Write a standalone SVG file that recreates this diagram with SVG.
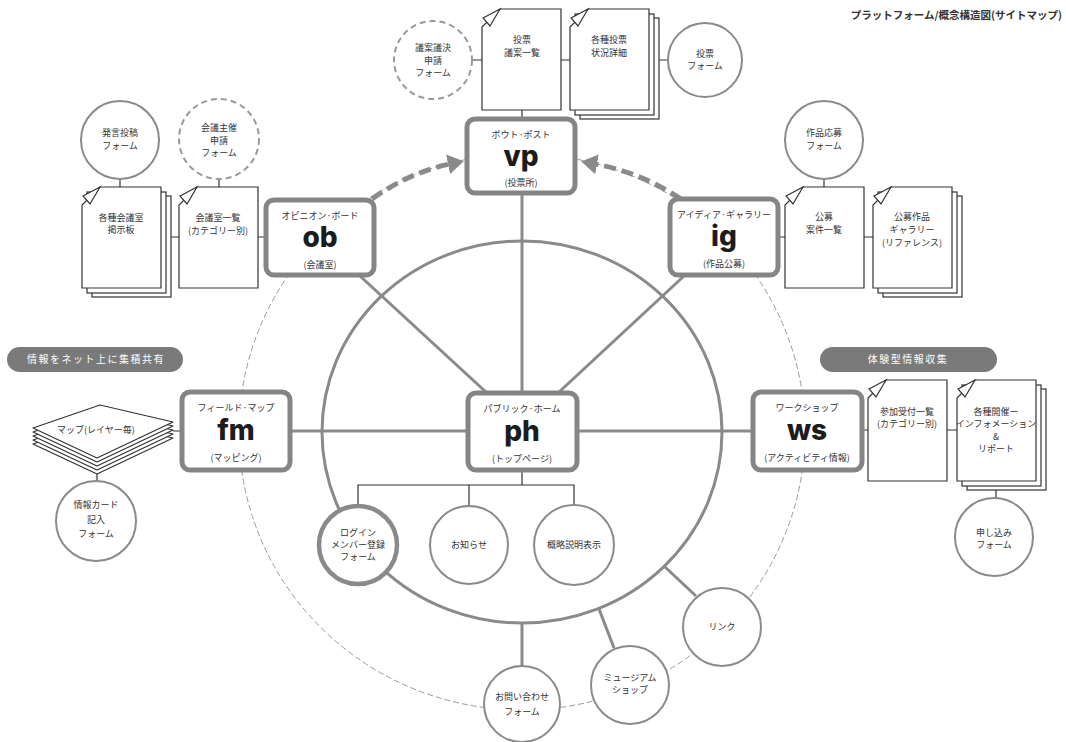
<svg xmlns="http://www.w3.org/2000/svg" xmlns:xlink="http://www.w3.org/1999/xlink" width="1066" height="742" viewBox="0 0 1066 742">
<style>
.t{font-family:"Noto Sans CJK JP",sans-serif;font-size:9px;fill:#333;text-anchor:middle}
.tt{font-family:"Noto Sans CJK JP",sans-serif;font-size:10.5px;fill:#333;text-anchor:end;font-weight:bold}
.pt{font-family:"Noto Sans CJK JP",sans-serif;font-size:10px;fill:#fff;text-anchor:middle;letter-spacing:1.5px}
.big{font-family:Inter,"Liberation Sans",sans-serif;font-weight:800;font-size:28px;fill:#1c1c1c;text-anchor:middle}
.box{fill:#fff;stroke:#858585;stroke-width:5}
.spoke{fill:none;stroke:#8a8a8a;stroke-width:3}
.thin{fill:none;stroke:#333;stroke-width:1.2}
.circ{fill:#fff;stroke:#8a8a8a;stroke-width:2}
.dcirc{fill:#fff;stroke:#999;stroke-width:2;stroke-dasharray:6 4}
.lcirc{fill:#fff;stroke:#8a8a8a;stroke-width:4.5}
.pg{fill:#fff;stroke:#333;stroke-width:1.2}
.pill{fill:#7a7a7a}
.arr{fill:none;stroke:#8a8a8a;stroke-width:5;stroke-dasharray:12 6}
.map{fill:#fff;stroke:#333;stroke-width:1.2;stroke-linejoin:round}
</style>
<defs>
<marker id="ah" markerUnits="userSpaceOnUse" viewBox="0 0 16 20" refX="2" refY="10" markerWidth="16" markerHeight="20" orient="auto"><path d="M0,0 L16,10 L0,20 Z" fill="#8a8a8a"/></marker>
<g id="page"><path class="pg" d="M18,0 H79 V101 H0 V18 Z"/><path class="pg" d="M1,9 L18,0 L8,17 Z"/></g>
<g id="stack"><rect class="pg" x="10" y="9" width="79" height="101"/><rect class="pg" x="5" y="5" width="79" height="101"/><use xlink:href="#page"/></g>
</defs>
<rect width="1066" height="742" fill="#fff"/>
<text class="tt" x="1062" y="19">プラットフォーム/概念構造図(サイトマップ)</text>

<!-- rings -->
<ellipse cx="522" cy="432" rx="283" ry="278" fill="none" stroke="#9a9a9a" stroke-width="1" stroke-dasharray="6 3"/>
<ellipse cx="522" cy="432" rx="200" ry="191" fill="none" stroke="#8a8a8a" stroke-width="3"/>

<g id="connectors">
<line class="spoke" x1="522" y1="193" x2="522" y2="393"/>
<line class="spoke" x1="360" y1="276" x2="487" y2="393"/>
<line class="spoke" x1="684" y1="276" x2="558" y2="393"/>
<line class="spoke" x1="290" y1="431" x2="468" y2="431"/>
<line class="spoke" x1="577" y1="431" x2="753" y2="431"/>
<line class="spoke" x1="665" y1="567" x2="696" y2="596"/>
<line class="spoke" x1="599" y1="609" x2="614" y2="648"/>
<line class="spoke" x1="522" y1="623" x2="522" y2="666"/>
<path class="arr" d="M372,199 Q410,172 450,164" marker-end="url(#ah)"/>
<path class="arr" d="M681,199 Q640,172 595,164" marker-end="url(#ah)"/>
<path class="thin" d="M522,470 V485 M358,505 V485 H574 V505 M469,485 V506" stroke-width="1.5"/>
<path class="thin" d="M472,60 H482 M561,60 H570 M659,60 H668 M522,110 V119"/>
<path class="thin" d="M120,179 V187 M219,179 V187 M171,237 H179 M258,237 H266"/>
<path class="thin" d="M778,237 H785 M864,237 H873 M824,179 V187"/>
<path class="thin" d="M862,430 H868 M947,430 H957 M996,490 V498"/>
<path class="thin" d="M173,431 H182 M97,474 V481"/>
</g>

<g id="vp">
<rect class="box" x="467" y="119" width="108" height="74" rx="8"/>
<text class="t" x="521" y="138">ボウト·ポスト</text>
<text class="big" x="521" y="166">vp</text>
<text class="t" x="521" y="186">(投票所)</text>
</g>
<g id="vp-docs">
<circle class="dcirc" cx="433" cy="60" r="39"/>
<text class="t" x="433" y="51">議案議決</text><text class="t" x="433" y="63.5">申請</text><text class="t" x="433" y="76">フォーム</text>
<use xlink:href="#page" x="482" y="9"/>
<text class="t" x="522" y="43">投票</text><text class="t" x="522" y="56">議案一覧</text>
<use xlink:href="#stack" x="570" y="9"/>
<text class="t" x="609" y="43">各種投票</text><text class="t" x="609" y="56">状況詳細</text>
<circle class="circ" cx="705" cy="60" r="37"/>
<text class="t" x="705" y="57">投票</text><text class="t" x="705" y="69">フォーム</text>
</g>

<g id="ob">
<rect class="box" x="266" y="200" width="108" height="75" rx="8"/>
<text class="t" x="320" y="219">オピニオン·ボード</text>
<text class="big" x="320" y="247">ob</text>
<text class="t" x="320" y="268">(会議室)</text>
</g>
<g id="ob-docs">
<circle class="circ" cx="120" cy="140" r="39"/>
<text class="t" x="120" y="136">発言投稿</text><text class="t" x="120" y="149">フォーム</text>
<circle class="dcirc" cx="219" cy="139" r="40"/>
<text class="t" x="219" y="131">会議主催</text><text class="t" x="219" y="144">申請</text><text class="t" x="219" y="156">フォーム</text>
<use xlink:href="#stack" x="82" y="187"/>
<text class="t" x="121" y="221">各種会議室</text><text class="t" x="121" y="233">掲示板</text>
<use xlink:href="#page" x="179" y="187"/>
<text class="t" x="218" y="221">会議室一覧</text><text class="t" x="218" y="234">(カテゴリー別)</text>
</g>

<g id="ig">
<rect class="box" x="670" y="199" width="108" height="76" rx="8"/>
<text class="t" x="724" y="218" font-size="8.6">アイディア·ギャラリー</text>
<text class="big" x="724" y="246">ig</text>
<text class="t" x="724" y="267">(作品公募)</text>
</g>
<g id="ig-docs">
<circle class="circ" cx="824" cy="140" r="39"/>
<text class="t" x="824" y="136">作品応募</text><text class="t" x="824" y="149">フォーム</text>
<use xlink:href="#page" x="785" y="187"/>
<text class="t" x="824" y="220">公募</text><text class="t" x="824" y="233">案件一覧</text>
<use xlink:href="#stack" x="873" y="187"/>
<text class="t" x="912" y="220">公募作品</text><text class="t" x="912" y="233">ギャラリー</text><text class="t" x="912" y="246">(リファレンス)</text>
</g>

<g id="fm">
<rect class="box" x="182" y="392" width="108" height="78" rx="8"/>
<text class="t" x="236" y="411">フィールド·マップ</text>
<text class="big" x="236" y="440">fm</text>
<text class="t" x="236" y="461">(マッピング)</text>
</g>
<g id="fm-docs">
<rect class="pill" x="7" y="347" width="176" height="25" rx="12.5"/>
<text class="pt" x="96" y="363">情報をネット上に集積共有</text>
<path class="map" d="M33,444 L100,421 L173,438 L97,474 Z"/>
<path class="map" d="M33,440 L100,417 L173,434 L97,470 Z"/>
<path class="map" d="M33,436 L100,413 L173,430 L97,466 Z"/>
<path class="map" d="M33,432 L100,409 L173,426 L97,462 Z"/>
<path class="map" d="M33,428 L100,405 L173,422 L97,458 Z"/>
<text class="t" x="96" y="433">マップ(レイヤー毎)</text>
<circle class="circ" cx="96" cy="521" r="40"/>
<text class="t" x="96" y="508">情報カード</text><text class="t" x="96" y="523">記入</text><text class="t" x="96" y="537">フォーム</text>
</g>

<g id="ws">
<rect class="box" x="753" y="392" width="109" height="78" rx="8"/>
<text class="t" x="807" y="411">ワークショップ</text>
<text class="big" x="807" y="440">ws</text>
<text class="t" x="807" y="461">(アクティビティ情報)</text>
</g>
<g id="ws-docs">
<rect class="pill" x="820" y="347" width="177" height="25" rx="12.5"/>
<text class="pt" x="908" y="363">体験型情報収集</text>
<use xlink:href="#page" x="868" y="380"/>
<text class="t" x="907" y="415">参加受付一覧</text><text class="t" x="907" y="427">(カテゴリー別)</text>
<use xlink:href="#stack" x="957" y="380"/>
<text class="t" x="996" y="415">各種開催ー</text><text class="t" x="996" y="427">インフォメーション</text><text class="t" x="996" y="440">&amp;</text><text class="t" x="996" y="452">リポート</text>
<circle class="circ" cx="994" cy="537" r="39"/>
<text class="t" x="994" y="536">申し込み</text><text class="t" x="994" y="548">フォーム</text>
</g>

<g id="ph">
<rect class="box" x="468" y="393" width="109" height="77" rx="8"/>
<text class="t" x="522" y="412">パブリック·ホーム</text>
<text class="big" x="522" y="441">ph</text>
<text class="t" x="522" y="462">(トップページ)</text>
</g>
<g id="ph-children">
<circle class="lcirc" cx="358" cy="545" r="39"/>
<text class="t" x="358" y="536">ログイン</text><text class="t" x="358" y="548">メンバー登録</text><text class="t" x="358" y="560">フォーム</text>
<circle class="circ" cx="469" cy="545" r="39"/>
<text class="t" x="469" y="548">お知らせ</text>
<circle class="circ" cx="574" cy="545" r="40"/>
<text class="t" x="574" y="548">概略説明表示</text>
</g>
<g id="bottom">
<circle class="circ" cx="722" cy="627" r="39"/>
<text class="t" x="722" y="630">リンク</text>
<circle class="circ" cx="630" cy="685" r="39"/>
<text class="t" x="630" y="681">ミュージアム</text><text class="t" x="630" y="693">ショップ</text>
<circle class="circ" cx="522" cy="704" r="38"/>
<text class="t" x="522" y="700">お問い合わせ</text><text class="t" x="522" y="715">フォーム</text>
</g>
</svg>
